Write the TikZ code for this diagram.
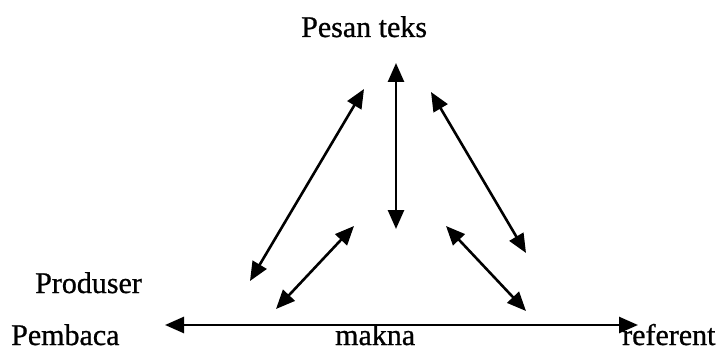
\documentclass[tikz,border=0pt]{standalone}
\usepackage{fontspec}
\setmainfont{Liberation Serif}
\newfontfamily\scanfont{Liberation Serif}[FakeBold=0.8]
\usetikzlibrary{arrows.meta}
\begin{document}
\begin{tikzpicture}[x=1pt,y=1pt,
  lbl/.style={anchor=base west,inner sep=0pt,font=\scanfont\fontsize{30}{35}\selectfont},
  dbl/.style={{Triangle[length=19pt,width=16pt]}-{Triangle[length=19pt,width=16pt]},line width=2.6pt}]
\useasboundingbox (0,0) rectangle (722,351);
\node[lbl] (pesan) at (301,351-37) {Pesan teks};
\node[lbl] (produser) at (35,351-293) {Produser};
\node[lbl] (pembaca) at (11,351-345) {Pembaca};
\node[lbl] (makna) at (335,351-345) {makna};
\node[lbl] (referent) at (622,351-345) {referent};
% arrow endpoints
\coordinate (vt) at (396,351-63);
\coordinate (vb) at (396,351-229);
\coordinate (ult) at (364,351-89);
\coordinate (ulb) at (250,351-281);
\coordinate (urt) at (431,351-92);
\coordinate (urb) at (526,351-253);
\coordinate (llt) at (354,351-226);
\coordinate (llb) at (276,351-309);
\coordinate (lrt) at (446,351-226);
\coordinate (lrb) at (526,351-311);
\coordinate (hl) at (165,351-325);
\coordinate (hr) at (638,351-325);
\draw[dbl] (vt) -- (vb);
\draw[dbl] (ult) -- (ulb);
\draw[dbl] (urt) -- (urb);
\draw[dbl] (llt) -- (llb);
\draw[dbl] (lrt) -- (lrb);
\draw[dbl] (hl) -- (hr);
\end{tikzpicture}
\end{document}
